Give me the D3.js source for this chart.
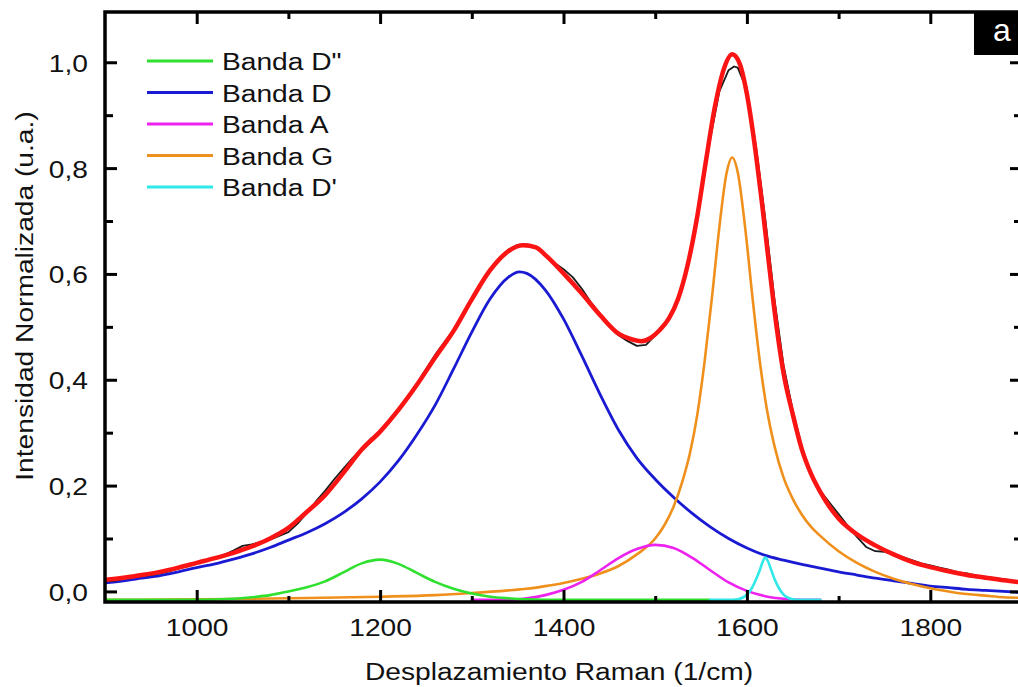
<!DOCTYPE html>
<html>
<head>
<meta charset="utf-8">
<script src="https://cdn.jsdelivr.net/npm/d3@7"></script>
<style>
  html, body { margin: 0; padding: 0; background: #ffffff; }
  svg { display: block; }
  text { font-family: "Liberation Sans", Arial, Helvetica, sans-serif; fill: #111; }
</style>
</head>
<body>
<svg id="chart" width="1018" height="687"></svg>
<script>
// ---- Fitted components: [Raman shift (1/cm), normalized intensity] ----
const bandD2 = [ // Banda D''
  [900,-0.016],[960,-0.016],[1000,-0.016],[1040,-0.014],[1060,-0.011],[1080,-0.007],
  [1100,0.000],[1120,0.008],[1140,0.019],[1160,0.036],[1180,0.053],[1200,0.060],
  [1220,0.052],[1240,0.035],[1260,0.018],[1280,0.005],[1300,-0.004],[1320,-0.010],
  [1340,-0.013],[1360,-0.015],[1400,-0.016],[1480,-0.016],[1560,-0.016]
];
const bandD = [ // Banda D
  [900,0.016],[920,0.020],[940,0.025],[960,0.030],[980,0.037],[1000,0.045],[1020,0.052],
  [1040,0.061],[1060,0.071],[1080,0.083],[1100,0.097],[1120,0.111],[1140,0.128],[1160,0.149],
  [1180,0.175],[1200,0.207],[1220,0.247],[1240,0.296],[1260,0.352],[1280,0.420],[1300,0.490],
  [1320,0.553],[1340,0.594],[1352,0.604],[1360,0.601],[1380,0.570],[1400,0.515],[1420,0.445],
  [1440,0.372],[1460,0.305],[1480,0.252],[1500,0.212],[1520,0.178],[1540,0.148],[1560,0.122],
  [1580,0.100],[1600,0.082],[1620,0.068],[1640,0.059],[1660,0.051],[1680,0.044],[1700,0.037],
  [1720,0.031],[1740,0.025],[1760,0.020],[1780,0.015],[1800,0.010],[1820,0.007],[1840,0.004],
  [1860,0.002],[1880,0.000],[1900,-0.002]
];
const bandA = [ // Banda A
  [1300,-0.016],[1340,-0.016],[1360,-0.013],[1380,-0.007],[1400,0.003],[1420,0.018],
  [1440,0.040],[1460,0.063],[1480,0.080],[1500,0.088],[1520,0.082],[1540,0.064],
  [1560,0.040],[1580,0.017],[1600,0.001],[1620,-0.009],[1640,-0.014],[1660,-0.016],[1680,-0.016]
];
const bandG = [ // Banda G
  [900,-0.016],[1000,-0.015],[1100,-0.013],[1200,-0.010],[1260,-0.007],[1300,-0.003],
  [1340,0.002],[1360,0.005],[1380,0.010],[1400,0.016],[1420,0.024],[1440,0.034],[1460,0.048],
  [1480,0.070],[1500,0.100],[1510,0.125],[1520,0.160],[1530,0.210],[1538,0.262],[1546,0.335],
  [1554,0.436],[1562,0.557],[1570,0.689],[1578,0.792],[1584,0.820],[1590,0.792],[1598,0.689],
  [1606,0.557],[1614,0.436],[1622,0.342],[1630,0.275],[1640,0.215],[1650,0.175],[1660,0.145],
  [1670,0.122],[1680,0.105],[1700,0.076],[1720,0.054],[1740,0.037],[1760,0.024],[1780,0.014],
  [1800,0.006],[1820,0.000],[1840,-0.005],[1860,-0.008],[1880,-0.011],[1900,-0.012]
];
const bandD1 = [ // Banda D'
  [1560,-0.016],[1580,-0.016],[1590,-0.015],[1595,-0.012],[1600,-0.006],[1605,0.005],
  [1610,0.023],[1614,0.040],[1617,0.055],[1620,0.064],[1623,0.057],[1626,0.043],[1630,0.024],
  [1635,0.006],[1640,-0.006],[1645,-0.012],[1650,-0.015],[1660,-0.016],[1680,-0.016]
];

// ---- Cumulative fit ----
const fitTotal = [
  [900,0.022],[920,0.026],[940,0.031],[960,0.037],[980,0.045],[1000,0.054],[1020,0.063],
  [1040,0.073],[1060,0.085],[1080,0.100],[1100,0.120],[1120,0.150],[1140,0.182],[1160,0.224],
  [1180,0.268],[1200,0.302],[1220,0.343],[1240,0.390],[1260,0.442],[1280,0.492],[1300,0.552],
  [1320,0.607],[1340,0.643],[1356,0.654],[1370,0.650],[1380,0.636],[1400,0.601],[1420,0.563],
  [1440,0.522],[1460,0.487],[1475,0.476],[1485,0.473],[1495,0.479],[1505,0.494],[1515,0.516],
  [1525,0.553],[1535,0.614],[1545,0.700],[1555,0.810],[1565,0.915],[1575,0.988],[1584,1.015],
  [1592,0.998],[1600,0.940],[1608,0.850],[1616,0.740],[1624,0.620],[1632,0.505],[1640,0.412],
  [1650,0.335],[1660,0.268],[1670,0.222],[1680,0.188],[1690,0.160],[1700,0.138],[1720,0.108],
  [1740,0.087],[1760,0.070],[1780,0.056],[1800,0.046],[1820,0.038],[1840,0.031],[1860,0.026],
  [1880,0.021],[1900,0.017]
];

// ---- Measured spectrum ----
const measured = [
  [900,0.020],[910,0.020],[920,0.024],[930,0.027],[940,0.029],[950,0.031],[960,0.034],
  [970,0.038],[980,0.043],[990,0.048],[1000,0.053],[1010,0.058],[1020,0.063],[1030,0.069],
  [1040,0.077],[1050,0.086],[1060,0.089],[1070,0.093],[1080,0.098],[1090,0.105],[1100,0.112],
  [1110,0.128],[1120,0.148],[1130,0.170],[1140,0.190],[1150,0.212],[1160,0.232],[1170,0.252],
  [1180,0.270],[1190,0.289],[1200,0.300],[1210,0.324],[1220,0.345],[1230,0.368],[1240,0.393],
  [1250,0.420],[1260,0.447],[1270,0.471],[1280,0.494],[1290,0.523],[1300,0.550],[1310,0.578],
  [1320,0.606],[1330,0.628],[1340,0.646],[1350,0.655],[1360,0.656],[1370,0.650],[1380,0.636],
  [1390,0.621],[1400,0.609],[1410,0.594],[1420,0.572],[1430,0.546],[1440,0.524],[1450,0.504],
  [1460,0.484],[1470,0.473],[1480,0.464],[1490,0.466],[1500,0.484],[1510,0.505],[1520,0.533],
  [1530,0.580],[1540,0.650],[1550,0.748],[1560,0.855],[1570,0.945],[1580,0.985],[1586,0.992],
  [1590,0.990],[1600,0.948],[1610,0.840],[1620,0.705],[1630,0.553],[1640,0.427],[1650,0.342],
  [1660,0.272],[1670,0.224],[1680,0.190],[1690,0.168],[1700,0.146],[1710,0.124],[1720,0.103],
  [1730,0.084],[1740,0.076],[1750,0.075],[1760,0.069],[1770,0.065],[1780,0.059],[1790,0.053],
  [1800,0.049],[1810,0.045],[1820,0.041],[1830,0.036],[1840,0.034],[1850,0.030],[1860,0.028],
  [1870,0.025],[1880,0.023],[1890,0.020],[1900,0.018]
];

// ---- Axes ticks and labels ----
const xMajorTicks = [1000, 1200, 1400, 1600, 1800];
const xMinorTicks = [1100, 1300, 1500, 1700];
const yMajorTicks = [0, 0.2, 0.4, 0.6, 0.8, 1.0];
const yMinorTicks = [0.1, 0.3, 0.5, 0.7, 0.9];
const xTitle = "Desplazamiento Raman (1/cm)";
const yTitle = "Intensidad Normalizada (u.a.)";
const panelLabel = "a";

const legendLabels = ['Banda D"', "Banda D", "Banda A", "Banda G", "Banda D'"];
const legendColors = ["#2fe02f", "#1a1ad2", "#ee22ee", "#f0901c", "#30e8e8"];

// ---- Layout ----
const plot = { left: 105, right: 1022, top: 12, bottom: 602 };
const FONT = 24.5;
const WIDEN = 1.15; // horizontal widening of the sans face

const x = d3.scaleLinear().domain([900, 1900]).range([plot.left, plot.right]);
const y = d3.scaleLinear().domain([-0.02, 1.095]).range([plot.bottom, plot.top]);

const decimalComma = d3.formatLocale({ decimal: ",", thousands: ".", grouping: [3], currency: ["", ""] }).format(".1f");

const svg = d3.select("#chart");

svg.append("defs").append("clipPath").attr("id", "plotArea")
  .append("rect")
  .attr("x", plot.left).attr("y", plot.top)
  .attr("width", plot.right - plot.left).attr("height", plot.bottom - plot.top);

// ---- Curves ----
const line = d3.line().x(d => x(d[0])).y(d => y(d[1])).curve(d3.curveMonotoneX);
const rawLine = d3.line().x(d => x(d[0])).y(d => y(d[1])).curve(d3.curveLinear);

const curves = svg.append("g").attr("clip-path", "url(#plotArea)").attr("fill", "none")
  .attr("stroke-linejoin", "round").attr("stroke-linecap", "round");

const componentSeries = [
  { data: bandD, color: legendColors[1], width: 2.8 },
  { data: bandG, color: legendColors[3], width: 2.6 },
  { data: bandA, color: legendColors[2], width: 2.6 },
  { data: bandD2, color: legendColors[0], width: 2.6 },
  { data: bandD1, color: legendColors[4], width: 2.6 }
];
componentSeries.forEach(s => {
  curves.append("path").attr("d", line(s.data)).attr("stroke", s.color).attr("stroke-width", s.width);
});
curves.append("path").attr("d", rawLine(measured)).attr("stroke", "#1a1a1a").attr("stroke-width", 1.8);
curves.append("path").attr("d", line(fitTotal)).attr("stroke", "#fa1414").attr("stroke-width", 4.5);

// ---- Axes (ticks point inward) ----
function styleTicks(g) {
  g.select(".domain").remove();
  g.selectAll(".tick line").attr("stroke", "#000").attr("stroke-width", 3);
  g.attr("font-size", null).attr("font-family", null);
}

svg.append("g").attr("transform", `translate(0,${plot.bottom})`)
  .call(d3.axisBottom(x).tickValues(xMinorTicks).tickSizeInner(-6).tickSizeOuter(0).tickFormat(""))
  .call(styleTicks);
const xAxis = svg.append("g").attr("transform", `translate(0,${plot.bottom})`)
  .call(d3.axisBottom(x).tickValues(xMajorTicks).tickSizeInner(-12).tickSizeOuter(0).tickFormat(d3.format("d")))
  .call(styleTicks);
xAxis.selectAll(".tick text")
  .attr("y", null).attr("dy", null)
  .attr("transform", `translate(0,34) scale(${WIDEN},1)`)
  .attr("text-anchor", "middle")
  .style("font-size", FONT + "px");

svg.append("g").attr("transform", `translate(0,${plot.top})`)
  .call(d3.axisTop(x).tickValues(xMinorTicks).tickSizeInner(-7).tickSizeOuter(0).tickFormat(""))
  .call(styleTicks);
svg.append("g").attr("transform", `translate(0,${plot.top})`)
  .call(d3.axisTop(x).tickValues(xMajorTicks).tickSizeInner(-12).tickSizeOuter(0).tickFormat(""))
  .call(styleTicks);

svg.append("g").attr("transform", `translate(${plot.left},0)`)
  .call(d3.axisLeft(y).tickValues(yMinorTicks).tickSizeInner(-8).tickSizeOuter(0).tickFormat(""))
  .call(styleTicks);
const yAxis = svg.append("g").attr("transform", `translate(${plot.left},0)`)
  .call(d3.axisLeft(y).tickValues(yMajorTicks).tickSizeInner(-12).tickSizeOuter(0).tickFormat(decimalComma))
  .call(styleTicks);
yAxis.selectAll(".tick text")
  .attr("x", null).attr("dy", null)
  .attr("transform", `translate(-17,9) scale(${WIDEN},1)`)
  .attr("text-anchor", "end")
  .style("font-size", FONT + "px");

svg.append("g").attr("transform", `translate(${plot.right},0)`)
  .call(d3.axisRight(y).tickValues(yMinorTicks).tickSizeInner(-8).tickSizeOuter(0).tickFormat(""))
  .call(styleTicks);
svg.append("g").attr("transform", `translate(${plot.right},0)`)
  .call(d3.axisRight(y).tickValues(yMajorTicks).tickSizeInner(-12).tickSizeOuter(0).tickFormat(""))
  .call(styleTicks);

// Frame
svg.append("rect")
  .attr("x", plot.left).attr("y", plot.top)
  .attr("width", plot.right - plot.left).attr("height", plot.bottom - plot.top)
  .attr("fill", "none").attr("stroke", "#000").attr("stroke-width", 3.5);

// ---- Axis titles ----
svg.append("text")
  .attr("transform", `translate(559,680) scale(${WIDEN},1)`)
  .attr("text-anchor", "middle")
  .style("font-size", FONT + "px")
  .text(xTitle);

svg.append("text")
  .attr("transform", `translate(33,296) rotate(-90) scale(${WIDEN},1)`)
  .attr("text-anchor", "middle")
  .style("font-size", FONT + "px")
  .text(yTitle);

// ---- Legend ----
const legendRowY = d3.scalePoint().domain(legendLabels).range([61, 187]);
const legend = svg.append("g");
legendLabels.forEach((label, i) => {
  const ly = legendRowY(label);
  legend.append("line")
    .attr("x1", 147).attr("x2", 213).attr("y1", ly).attr("y2", ly)
    .attr("stroke", legendColors[i]).attr("stroke-width", 3);
  legend.append("text")
    .attr("transform", `translate(222,${ly + 9}) scale(${WIDEN},1)`)
    .style("font-size", FONT + "px")
    .text(label);
});

// ---- Panel tag ----
svg.append("rect")
  .attr("x", 974).attr("y", plot.top).attr("width", plot.right - 974).attr("height", 43)
  .attr("fill", "#000");
svg.append("text")
  .attr("x", 1002).attr("y", 41)
  .attr("text-anchor", "middle")
  .style("font-size", "32px").style("fill", "#fff")
  .text(panelLabel);
</script>
</body>
</html>
